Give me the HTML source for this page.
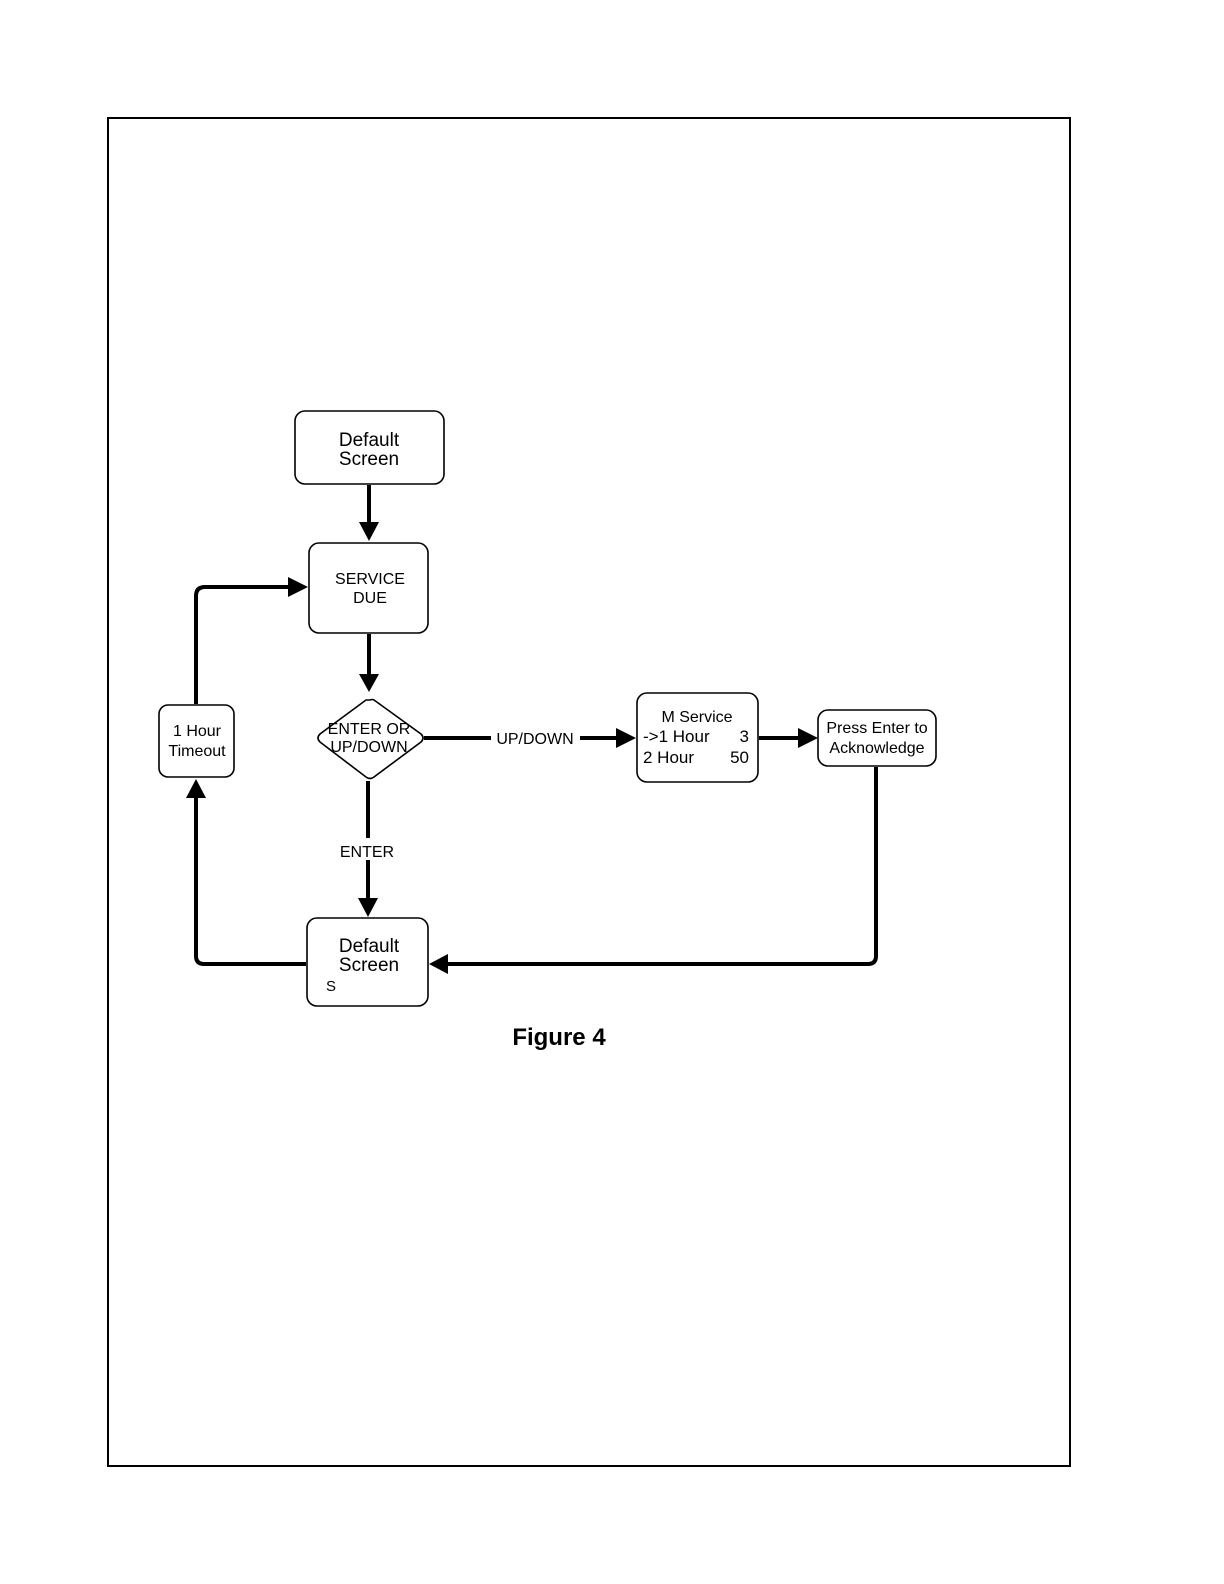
<!DOCTYPE html>
<html><head><meta charset="utf-8"><style>
html,body{margin:0;padding:0;background:#fff;}
svg{display:block}
text{font-family:"Liberation Sans",Arial,sans-serif;fill:#000}
</style></head><body>
<svg width="1224" height="1584" viewBox="0 0 1224 1584" xmlns="http://www.w3.org/2000/svg">
<rect x="108" y="118" width="962" height="1348" fill="none" stroke="#000" stroke-width="2"/>
<g fill="none" stroke="#000" stroke-width="1.6">
<rect x="295" y="411" width="149" height="73" rx="10"/>
<rect x="309" y="543" width="119" height="90" rx="10"/>
<path d="M370 700 Q372 699 374 700 L421 734 Q425 738 421 742 L374 777 Q370 780 366 777 L320 742 Q316 738 320 734 L366 700 Z"/>
<rect x="159" y="705" width="75" height="72" rx="9"/>
<rect x="307" y="918" width="121" height="88" rx="10"/>
<rect x="637" y="693" width="121" height="89" rx="10"/>
<rect x="818" y="710" width="118" height="56" rx="10"/>
</g>
<g fill="none" stroke="#000" stroke-width="4">
<line x1="369" y1="485" x2="369" y2="524"/>
<line x1="369" y1="634" x2="369" y2="676"/>
<line x1="368" y1="781" x2="368" y2="838"/>
<line x1="368" y1="860" x2="368" y2="900"/>
<line x1="424" y1="738" x2="491" y2="738"/>
<line x1="580" y1="738" x2="618" y2="738"/>
<line x1="759" y1="738" x2="800" y2="738"/>
<path d="M876 767 V956 Q876 964 868 964 H446"/>
<path d="M306 964 H204 Q196 964 196 956 V797"/>
<path d="M196 704 V596 Q196 587 205 587 H290"/>
</g>
<g fill="#000">
<polygon points="359,522 379,522 369,541"/>
<polygon points="359,674 379,674 369,692"/>
<polygon points="358,898 378,898 368,917"/>
<polygon points="616,728 616,748 636,738"/>
<polygon points="798,728 798,748 818,738"/>
<polygon points="448,954 448,974 429,964"/>
<polygon points="186,798 206,798 196,779"/>
<polygon points="288,577 288,597 308,587"/>
</g>
<g font-size="19" text-anchor="middle">
<text x="369" y="446">Default</text>
<text x="369" y="465">Screen</text>
<text x="369" y="952">Default</text>
<text x="369" y="971">Screen</text>
</g>
<text x="326" y="991" font-size="15">S</text>
<g font-size="16" text-anchor="middle">
<text x="370" y="584">SERVICE</text>
<text x="370" y="603">DUE</text>
<text x="369" y="734">ENTER OR</text>
<text x="369" y="752">UP/DOWN</text>
<text x="367" y="857">ENTER</text>
<text x="535" y="744">UP/DOWN</text>
<text x="197" y="736">1 Hour</text>
<text x="197" y="756">Timeout</text>
<text x="877" y="733">Press Enter to</text>
<text x="877" y="753">Acknowledge</text>
<text x="697" y="722">M Service</text>
</g>
<g font-size="17">
<text x="643" y="742">-&gt;1 Hour</text>
<text x="749" y="742" text-anchor="end">3</text>
<text x="643" y="763">2 Hour</text>
<text x="749" y="763" text-anchor="end">50</text>
</g>
<text x="559" y="1045" font-size="24" font-weight="bold" text-anchor="middle">Figure 4</text>
</svg>
</body></html>
